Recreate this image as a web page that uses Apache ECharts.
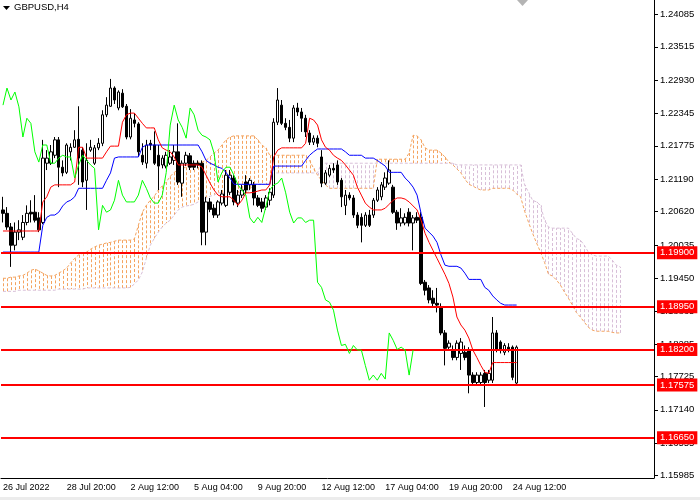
<!DOCTYPE html>
<html><head><meta charset="utf-8">
<script src="https://cdn.jsdelivr.net/npm/echarts@6/dist/echarts.min.js"></script>
<style>html,body{margin:0;padding:0;background:#fff}#c{width:700px;height:500px}</style>
</head><body><div id="c"></div>
<script>
// ---- GBPUSD H4 data ----
const xTickIdx = [0, 16, 32, 48, 64, 80, 96, 112, 128];
const xTickLabels = ['26 Jul 2022', '28 Jul 20:00', '2 Aug 12:00', '5 Aug 04:00', '9 Aug 20:00', '12 Aug 12:00', '17 Aug 04:00', '19 Aug 20:00', '24 Aug 12:00'];
const yTicks = [1.24085, 1.23515, 1.22930, 1.22345, 1.21775, 1.21190, 1.20620, 1.20035, 1.19450, 1.18865, 1.18285, 1.17725, 1.17140, 1.16555, 1.15985];
const levels = [1.19900, 1.18950, 1.18200, 1.17575, 1.16650];
const yMin = 1.15943, yMax = 1.24336;

const opens = [
1.2065,1.2059,1.2035,1.2003,1.2026,1.2017,1.2043,1.2061,1.2061,1.2051,
1.2043,1.2147,1.2147,1.2161,1.2188,1.2140,1.2131,1.2167,1.2175,1.2189,
1.2170,1.2117,1.2170,1.2147,1.2174,1.2182,1.2232,1.2247,1.2279,1.2244,
1.2270,1.2247,1.2193,1.2223,1.2216,1.2161,1.2147,1.2182,1.2179,1.2161,
1.2144,1.2142,1.2147,1.2152,1.2167,1.2112,1.2147,1.2160,1.2147,1.2147,
1.2147,1.2026,1.2079,1.2068,1.2056,1.2077,1.2073,1.2096,1.2121,1.2077,
1.2091,1.2114,1.2109,1.2109,1.2086,1.2079,1.2070,1.2082,1.2091,1.2219,
1.2249,1.2217,1.2210,1.2191,1.2244,1.2237,1.2226,1.2200,1.2184,1.2191,
1.2158,1.2112,1.2126,1.2138,1.2144,1.2117,1.2073,1.2091,1.2086,1.2056,
1.2052,1.2038,1.2056,1.2056,1.2082,1.2088,1.2105,1.2112,1.2105,1.2061,
1.2042,1.2042,1.2061,1.2042,1.2052,1.2052,1.1938,1.1928,1.1910,1.1901,
1.1894,1.1849,1.1824,1.1819,1.1806,1.1813,1.1815,1.1819,1.1775,1.1762,
1.1762,1.1778,1.1766,1.1766,1.1849,1.1833,1.1815,1.1824,1.1824,1.1761];
const closes = [
1.2059,1.2035,1.2003,1.2026,1.2030,1.2043,1.2059,1.2058,1.2047,1.2030,
1.2156,1.2156,1.2167,1.2188,1.2140,1.2130,1.2179,1.2175,1.2188,1.2156,
1.2114,1.2152,1.2175,1.2174,1.2182,1.2232,1.2249,1.2279,1.2258,1.2272,
1.2246,1.2193,1.2226,1.2217,1.2167,1.2149,1.2179,1.2179,1.2147,1.2142,
1.2156,1.2161,1.2158,1.2167,1.2114,1.2147,1.2161,1.2140,1.2140,1.2144,
1.2026,1.2079,1.2066,1.2056,1.2079,1.2093,1.2126,1.2126,1.2079,1.2091,
1.2100,1.2100,1.2117,1.2086,1.2073,1.2068,1.2086,1.2096,1.2219,1.2258,
1.2217,1.2210,1.2191,1.2244,1.2237,1.2226,1.2202,1.2184,1.2191,1.2182,
1.2112,1.2130,1.2138,1.2135,1.2114,1.2088,1.2091,1.2086,1.2056,1.2038,
1.2038,1.2056,1.2038,1.2082,1.2100,1.2109,1.2121,1.2135,1.2061,1.2042,
1.2051,1.2052,1.2042,1.2051,1.2047,1.1936,1.1924,1.1907,1.1901,1.1898,
1.1849,1.1822,1.1831,1.1806,1.1831,1.1833,1.1806,1.1775,1.1762,1.1775,
1.1775,1.1762,1.1778,1.1849,1.1819,1.1819,1.1827,1.1819,1.1771,1.1824];
const lows = [
1.2043,1.2030,1.1965,1.1994,1.2012,1.2012,1.2038,1.2043,1.2043,1.2026,
1.2040,1.2135,1.2144,1.2156,1.2105,1.2124,1.2128,1.2152,1.2174,1.2109,
1.2105,1.2065,1.2167,1.2144,1.2170,1.2177,1.2228,1.2246,1.2251,1.2240,
1.2244,1.2189,1.2189,1.2210,1.2158,1.2144,1.2138,1.2170,1.2144,1.2100,
1.2138,1.2138,1.2144,1.2144,1.2109,1.2088,1.2142,1.2135,1.2135,1.2138,
1.2003,1.2003,1.2061,1.2051,1.2051,1.2073,1.2070,1.2091,1.2073,1.2070,
1.2086,1.2091,1.2100,1.2073,1.2070,1.2061,1.2065,1.2073,1.2086,1.2214,
1.2214,1.2205,1.2184,1.2184,1.2230,1.2202,1.2193,1.2179,1.2179,1.2175,
1.2105,1.2109,1.2123,1.2130,1.2109,1.2070,1.2056,1.2082,1.2051,1.2033,
1.2008,1.2035,1.2035,1.2051,1.2079,1.2082,1.2100,1.2109,1.2058,1.2030,
1.2036,1.2038,1.2036,1.1994,1.2042,1.1933,1.1915,1.1901,1.1894,1.1885,
1.1845,1.1792,1.1819,1.1801,1.1801,1.1784,1.1801,1.1743,1.1757,1.1757,
1.1759,1.1719,1.1761,1.1761,1.1815,1.1813,1.1810,1.1815,1.1766,1.1757];
const highs = [
1.2088,1.2070,1.2042,1.2043,1.2047,1.2056,1.2073,1.2082,1.2091,1.2061,
1.2188,1.2170,1.2179,1.2193,1.2193,1.2152,1.2182,1.2182,1.2205,1.2247,
1.2175,1.2182,1.2188,1.2179,1.2191,1.2240,1.2263,1.2295,1.2282,1.2275,
1.2277,1.2251,1.2242,1.2235,1.2219,1.2182,1.2188,1.2188,1.2203,1.2179,
1.2161,1.2167,1.2170,1.2179,1.2217,1.2152,1.2167,1.2165,1.2152,1.2152,
1.2152,1.2088,1.2086,1.2075,1.2082,1.2100,1.2135,1.2135,1.2126,1.2100,
1.2109,1.2126,1.2121,1.2114,1.2091,1.2086,1.2091,1.2103,1.2226,1.2279,
1.2258,1.2226,1.2223,1.2249,1.2253,1.2244,1.2232,1.2205,1.2196,1.2196,
1.2170,1.2135,1.2144,1.2147,1.2152,1.2121,1.2100,1.2096,1.2091,1.2061,
1.2059,1.2061,1.2065,1.2086,1.2105,1.2114,1.2131,1.2152,1.2109,1.2065,
1.2068,1.2059,1.2068,1.2056,1.2061,1.2061,1.1942,1.1933,1.1924,1.1928,
1.1901,1.1854,1.1836,1.1827,1.1836,1.1840,1.1827,1.1824,1.1780,1.1780,
1.1780,1.1784,1.1784,1.1877,1.1854,1.1836,1.1831,1.1831,1.1827,1.1827];

const tenkan = [
1.2028,1.2028,1.2028,1.2028,1.2028,1.2028,1.2028,1.2028,1.2028,1.2028,
1.2079,1.2088,1.2105,1.2109,1.2109,1.2109,1.2109,1.2109,1.2114,1.2175,
1.2175,1.2156,1.2156,1.2156,1.2156,1.2156,1.2167,1.2177,1.2177,1.2177,
1.2219,1.2232,1.2235,1.2235,1.2226,1.2217,1.2209,1.2209,1.2209,1.2188,
1.2174,1.2170,1.2167,1.2158,1.2144,1.2144,1.2144,1.2144,1.2144,1.2144,
1.2140,1.2126,1.2112,1.2100,1.2091,1.2088,1.2088,1.2088,1.2082,1.2073,
1.2082,1.2095,1.2095,1.2096,1.2098,1.2100,1.2100,1.2109,1.2158,1.2170,
1.2174,1.2174,1.2174,1.2174,1.2174,1.2174,1.2182,1.2226,1.2223,1.2214,
1.2188,1.2175,1.2170,1.2161,1.2156,1.2152,1.2144,1.2135,1.2126,1.2105,
1.2091,1.2077,1.2070,1.2065,1.2065,1.2065,1.2068,1.2075,1.2082,1.2086,
1.2086,1.2084,1.2079,1.2072,1.2065,1.2047,1.2024,1.2008,1.1994,1.1980,
1.1966,1.1952,1.1936,1.1912,1.1877,1.1863,1.1854,1.1840,1.1819,1.1806,
1.1792,1.1780,1.1778,1.1797,1.1797,1.1797,1.1797,1.1797,1.1797,1.1797];
const kijun = [
1.1991,1.1991,1.1991,1.1991,1.1991,1.1991,1.1991,1.1991,1.1991,1.1991,
1.2038,1.2052,1.2056,1.2056,1.2061,1.2072,1.2079,1.2082,1.2088,1.2103,
1.2103,1.2103,1.2103,1.2103,1.2103,1.2103,1.2117,1.2130,1.2156,1.2158,
1.2158,1.2158,1.2158,1.2158,1.2158,1.2175,1.2179,1.2179,1.2179,1.2179,
1.2179,1.2179,1.2179,1.2179,1.2179,1.2179,1.2179,1.2179,1.2179,1.2179,
1.2167,1.2152,1.2147,1.2144,1.2140,1.2138,1.2131,1.2121,1.2110,1.2110,
1.2110,1.2110,1.2110,1.2110,1.2110,1.2110,1.2110,1.2110,1.2142,1.2142,
1.2142,1.2142,1.2142,1.2142,1.2142,1.2142,1.2152,1.2161,1.2167,1.2172,
1.2172,1.2172,1.2172,1.2172,1.2172,1.2172,1.2167,1.2161,1.2161,1.2161,
1.2161,1.2156,1.2156,1.2156,1.2152,1.2147,1.2142,1.2131,1.2131,1.2131,
1.2131,1.2121,1.2114,1.2105,1.2091,1.2059,1.2033,1.2026,1.2019,1.2008,
1.1986,1.1968,1.1966,1.1966,1.1966,1.1963,1.1954,1.1943,1.1943,1.1943,
1.1943,1.1929,1.1924,1.1914,1.1907,1.1901,1.1898,1.1898,1.1898,1.1898];
const chikou = [
1.2249,1.2279,1.2258,1.2272,1.2246,1.2193,1.2226,1.2217,1.2167,1.2149,
1.2179,1.2179,1.2147,1.2147,1.2156,1.2161,1.2158,1.2158,1.2121,1.2144,
1.2161,1.2152,1.2144,1.2138,1.2030,1.2073,1.2061,1.2065,1.2082,1.2117,
1.2091,1.2079,1.2079,1.2079,1.2091,1.2117,1.2103,1.2086,1.2077,1.2077,
1.2091,1.2131,1.2214,1.2249,1.2223,1.2210,1.2191,1.2244,1.2232,1.2205,
1.2196,1.2193,1.2188,1.2165,1.2114,1.2131,1.2140,1.2140,1.2126,1.2109,
1.2100,1.2091,1.2051,1.2042,1.2052,1.2043,1.2070,1.2100,1.2109,1.2112,
1.2121,1.2095,1.2061,1.2042,1.2051,1.2051,1.2043,1.2047,1.2047,1.1938,
1.1929,1.1907,1.1903,1.1889,1.1854,1.1827,1.1829,1.1813,1.1827,1.1819,
1.1819,1.1792,1.1766,1.1775,1.1766,1.1778,1.1768,1.1849,1.1836,1.1820,
1.1824,1.1819,1.1775,1.1819];
const senkouA = [
1.1945,1.1945,1.1947,1.1947,1.1949,1.1950,1.1954,1.1959,1.1961,1.1958,
1.1954,1.1950,1.1949,1.1950,1.1954,1.1958,1.1963,1.1972,1.1980,1.1986,
1.1989,1.1991,1.1996,1.2000,1.2003,1.2005,1.2007,1.2008,1.2010,1.2012,
1.2012,1.2012,1.2012,1.2014,1.2038,1.2061,1.2073,1.2082,1.2089,1.2100,
1.2107,1.2114,1.2124,1.2131,1.2135,1.2138,1.2140,1.2144,1.2145,1.2149,
1.2149,1.2152,1.2158,1.2165,1.2170,1.2179,1.2188,1.2193,1.2195,1.2195,
1.2195,1.2195,1.2195,1.2195,1.2188,1.2179,1.2174,1.2161,1.2161,1.2161,
1.2161,1.2161,1.2161,1.2161,1.2161,1.2161,1.2161,1.2152,1.2138,1.2126,
1.2117,1.2109,1.2103,1.2103,1.2103,1.2103,1.2103,1.2103,1.2103,1.2103,
1.2103,1.2103,1.2103,1.2103,1.2154,1.2154,1.2154,1.2154,1.2154,1.2154,
1.2154,1.2154,1.2165,1.2196,1.2195,1.2188,1.2174,1.2170,1.2170,1.2170,
1.2165,1.2158,1.2149,1.2144,1.2137,1.2130,1.2119,1.2110,1.2107,1.2103,
1.2100,1.2100,1.2100,1.2103,1.2103,1.2103,1.2103,1.2103,1.2100,1.2093,
1.2088,1.2063,1.2043,1.2024,1.2007,1.1991,1.1973,1.1952,1.1949,1.1942,
1.1933,1.1921,1.1910,1.1898,1.1885,1.1877,1.1868,1.1859,1.1854,1.1852,
1.1852,1.1852,1.1852,1.1850,1.1849,1.1849];
const senkouB = [
1.1922,1.1922,1.1922,1.1922,1.1924,1.1924,1.1924,1.1924,1.1924,1.1924,
1.1924,1.1924,1.1924,1.1924,1.1926,1.1926,1.1926,1.1926,1.1926,1.1926,
1.1926,1.1928,1.1928,1.1928,1.1928,1.1928,1.1928,1.1928,1.1928,1.1928,
1.1928,1.1928,1.1929,1.1935,1.1942,1.1956,1.1980,1.2003,1.2015,1.2026,
1.2035,1.2042,1.2047,1.2056,1.2065,1.2070,1.2072,1.2073,1.2075,1.2079,
1.2082,1.2086,1.2089,1.2091,1.2095,1.2095,1.2095,1.2095,1.2095,1.2095,
1.2095,1.2095,1.2100,1.2110,1.2110,1.2110,1.2110,1.2110,1.2130,1.2130,
1.2130,1.2130,1.2130,1.2130,1.2130,1.2130,1.2130,1.2130,1.2130,1.2130,
1.2147,1.2147,1.2147,1.2147,1.2147,1.2147,1.2147,1.2147,1.2147,1.2147,
1.2147,1.2147,1.2147,1.2147,1.2147,1.2147,1.2147,1.2147,1.2147,1.2147,
1.2147,1.2147,1.2147,1.2147,1.2147,1.2147,1.2147,1.2147,1.2147,1.2147,
1.2147,1.2147,1.2147,1.2147,1.2144,1.2144,1.2144,1.2144,1.2144,1.2144,
1.2144,1.2144,1.2144,1.2144,1.2144,1.2144,1.2144,1.2144,1.2144,1.2144,
1.2144,1.2109,1.2096,1.2082,1.2079,1.2073,1.2047,1.2035,1.2033,1.2033,
1.2033,1.2033,1.2033,1.2024,1.2015,1.2012,1.2003,1.1991,1.1986,1.1984,
1.1984,1.1984,1.1984,1.1977,1.1968,1.1965];

// ---- chart ----
const N = 164; // bars incl. 26-bar cloud projection and right margin
const cats = Array.from({length: N}, (_, i) => String(i));
const candleData = opens.map((o, i) => [o, closes[i], lows[i], highs[i]]);
const cloudData = senkouA.map((a, i) => [i, a, senkouB[i]]);
const FONT = '"Liberation Sans", Arial, sans-serif';

const chart = echarts.init(document.getElementById('c'), null, {renderer: 'canvas'});
const lineS = (name, data, color, z, dash) => ({
  name, type: 'line', data, symbol: 'none', showSymbol: false, silent: true, z,
  lineStyle: {color, width: 1, type: dash || 'solid'}, animation: false
});
chart.setOption({
  animation: false,
  backgroundColor: '#ffffff',
  grid: {left: -2, top: 0, width: 656, height: 478},
  xAxis: {
    type: 'category', data: cats, boundaryGap: true,
    axisLine: {lineStyle: {color: '#000', width: 1}},
    axisTick: {alignWithLabel: true, length: 4, interval: (i) => xTickIdx.includes(i), lineStyle: {color: '#000'}},
    axisLabel: {interval: (i) => xTickIdx.includes(i), formatter: (v, i) => xTickLabels[xTickIdx.indexOf(Number(v))] || '',
      align: 'left', margin: 5, color: '#000', fontSize: 9, fontFamily: FONT},
    splitLine: {show: false}
  },
  yAxis: {
    type: 'value', position: 'right', min: yMin, max: yMax,
    axisLine: {show: true, lineStyle: {color: '#000'}},
    axisTick: {show: true, length: 4, customValues: yTicks, lineStyle: {color: '#000'}},
    axisLabel: {customValues: yTicks, formatter: (v) => v.toFixed(5), color: '#000', fontSize: 9.5, margin: 6, fontFamily: FONT},
    splitLine: {show: false}
  },
  graphic: [
    {type: 'polygon', shape: {points: [[3, 6], [10, 6], [6.5, 10]]}, style: {fill: '#000'}, z: 100},
    {type: 'text', left: 14, top: 2, style: {text: 'GBPUSD,H4', fill: '#000', font: '9.5px ' + FONT}, z: 100},
    {type: 'polygon', shape: {points: [[517, 0], [528, 0], [522.5, 6]]}, style: {fill: '#b4b4b4'}, z: 100},
    {type: 'rect', shape: {x: 0, y: 497, width: 700, height: 3}, style: {fill: '#ececec'}, z: 100}
  ],
  series: [
    {
      type: 'custom', name: 'cloud', data: cloudData, z: 1, silent: true,
      encode: {x: 0, y: [1, 2]},
      renderItem: (params, api) => {
        const a = api.value(1), b = api.value(2);
        const p1 = api.coord([api.value(0), a]);
        const p2 = api.coord([api.value(0), b]);
        const x = Math.round(p1[0]) + 0.5;
        return {type: 'line', shape: {x1: x, y1: p1[1], x2: x, y2: p2[1]},
          style: {stroke: a >= b ? '#F4A460' : '#D8BFD8', lineWidth: 1, lineDash: [3, 2]}};
      }
    },
    lineS('Senkou A', senkouA, '#F4A460', 2, [3, 2]),
    lineS('Senkou B', senkouB, '#D8BFD8', 2, [3, 2]),
    {
      type: 'candlestick', name: 'GBPUSD', data: candleData, z: 3, barWidth: 3, silent: true,
      itemStyle: {color: '#ffffff', color0: '#000000', borderColor: '#000000', borderColor0: '#000000', borderWidth: 1}
    },
    lineS('Kijun', kijun, '#0000FF', 4),
    lineS('Tenkan', tenkan, '#FF0000', 4),
    Object.assign(lineS('Chikou', chikou, '#00FF00', 5), {
      markLine: {
        silent: true, symbol: 'none', animation: false, precision: 5,
        lineStyle: {color: '#FF0000', width: 2, type: 'solid'},
        label: {show: true, position: 'end', distance: 3, formatter: (p) => Number(p.value).toFixed(5),
          color: '#ffffff', backgroundColor: '#FF0000', padding: [2, 3, 1, 3], fontSize: 9.5, fontFamily: FONT},
        emphasis: {disabled: true},
        data: levels.map((v) => ({yAxis: v}))
      }
    })
  ]
});
</script>
</body></html>
